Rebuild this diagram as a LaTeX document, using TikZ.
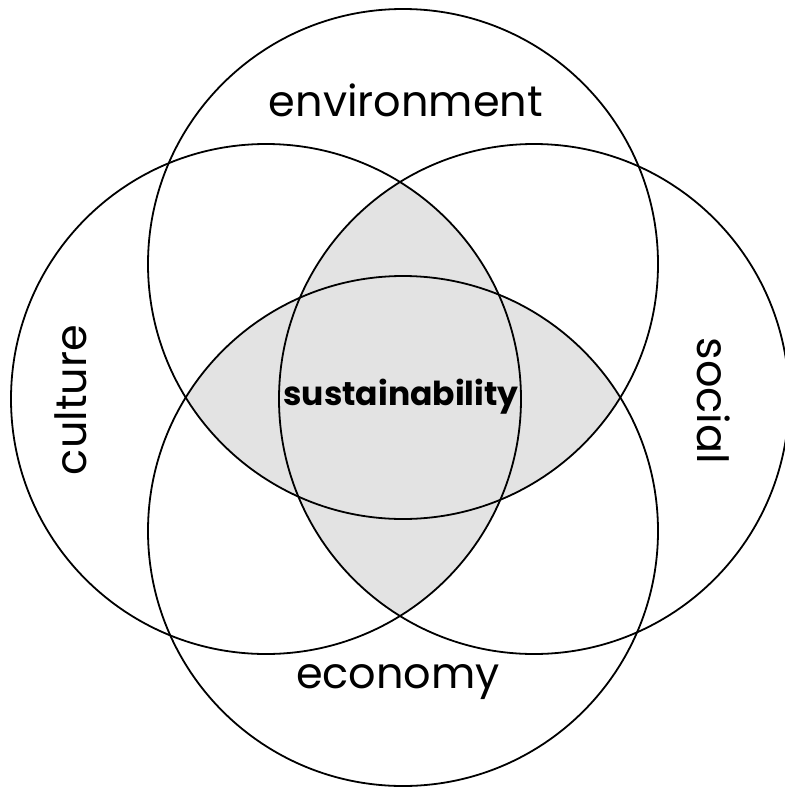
\documentclass[tikz,border=0pt]{standalone}
\usepackage{fontspec}
\setmainfont{Poppins}
\usepackage{tikz}
\usetikzlibrary{positioning}
\tikzset{%
% Specifications for style of circles and labels:
ring/.style = {circle, draw, line width=1.8pt, minimum size=510pt, inner sep=0pt},
overlap/.style = {fill=black!11},
area/.style = {font=\fontsize{43}{52}\selectfont, anchor=base},
core/.style = {font=\fontsize{33}{40}\selectfont\bfseries, anchor=base},
}
\begin{document}
\begin{tikzpicture}[x=1pt, y=-1pt]
        \useasboundingbox (0,0) rectangle (785,788);
        % Centres of the four circles
        \coordinate (cTop) at (403,264);
        \coordinate (cBottom) at (403,531);
        \coordinate (cLeft) at (266,399);
        \coordinate (cRight) at (534,399);

        % Shaded overlaps
        \begin{scope}
            \clip (cTop) circle[radius=255pt];
            \fill[overlap] (cBottom) circle[radius=255pt];
        \end{scope}
        \begin{scope}
            \clip (cLeft) circle[radius=255pt];
            \fill[overlap] (cRight) circle[radius=255pt];
        \end{scope}

        % Circles
        \node (environment) [ring] at (cTop) {};
        \node (economy) [ring] at (cBottom) {};
        \node (culture) [ring] at (cLeft) {};
        \node (social) [ring] at (cRight) {};

        % Labels
        \node (environmentLabel) [area] at (406,116) {environment};
        \node (economyLabel) [area] at (398,688) {economy};
        \node (cultureLabel) [area, rotate=90] at (86,400) {culture};
        \node (socialLabel) [area, rotate=-90] at (697,401) {social};
        \node (sustainability) [core] at (401,405) {sustainability};
    \end{tikzpicture}
\end{document}
